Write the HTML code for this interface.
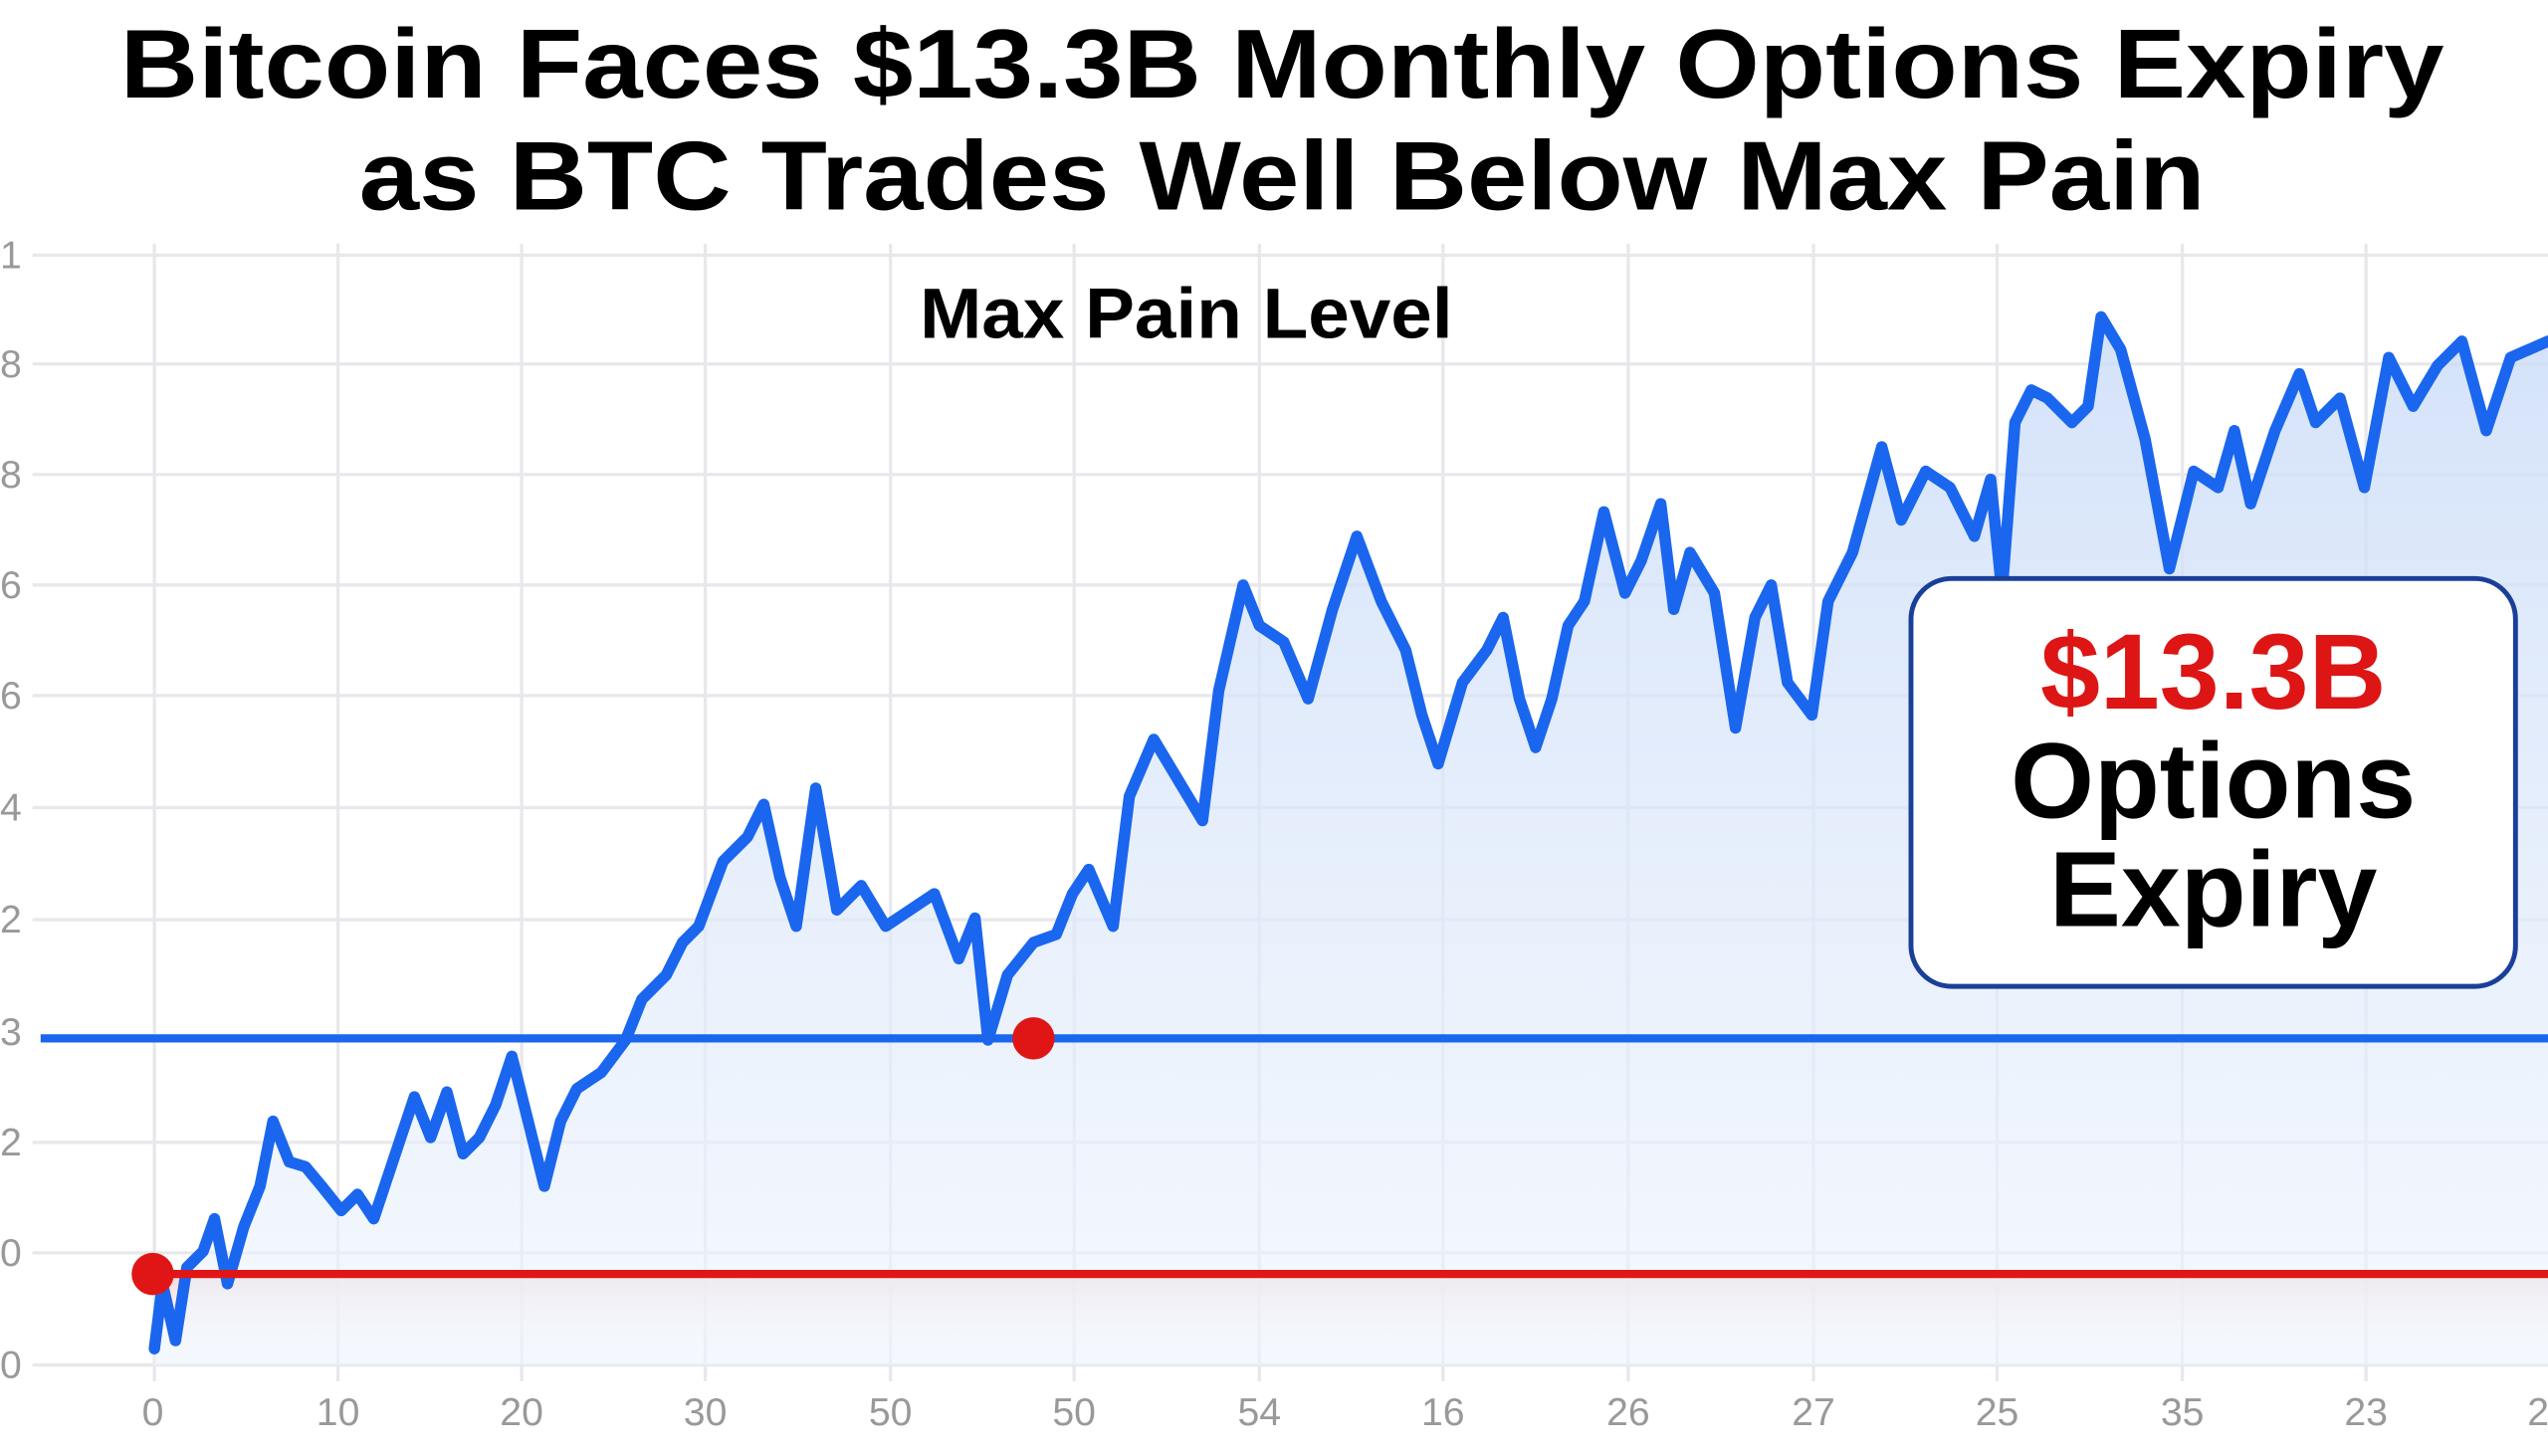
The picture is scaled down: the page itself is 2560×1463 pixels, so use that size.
<!DOCTYPE html>
<html><head><meta charset="utf-8"><style>
html,body{margin:0;padding:0;background:#fff;}
svg{display:block;}
</style></head><body>
<svg width="2560" height="1463" viewBox="0 0 1568 896" preserveAspectRatio="none" xmlns="http://www.w3.org/2000/svg">
<defs>
<linearGradient id="bf" x1="0" y1="0" x2="0" y2="1">
<stop offset="0" stop-color="#c9dbf8" stop-opacity="0.8"/>
<stop offset="1" stop-color="#eef4fd" stop-opacity="0.6"/>
</linearGradient>
<linearGradient id="rf" x1="0" y1="0" x2="0" y2="1">
<stop offset="0" stop-color="#f7d6d8"/>
<stop offset="1" stop-color="#fff" stop-opacity="0"/>
</linearGradient>
</defs>
<rect width="1568" height="896" fill="#fff"/>
<g stroke="#e8e8ec" stroke-width="2">
<line x1="95" y1="150" x2="95" y2="850"/><line x1="208" y1="150" x2="208" y2="850"/><line x1="321" y1="150" x2="321" y2="850"/><line x1="434" y1="150" x2="434" y2="850"/><line x1="548" y1="150" x2="548" y2="850"/><line x1="661" y1="150" x2="661" y2="850"/><line x1="775" y1="150" x2="775" y2="850"/><line x1="888" y1="150" x2="888" y2="850"/><line x1="1002" y1="150" x2="1002" y2="850"/><line x1="1116" y1="150" x2="1116" y2="850"/><line x1="1229" y1="150" x2="1229" y2="850"/><line x1="1343" y1="150" x2="1343" y2="850"/><line x1="1456" y1="150" x2="1456" y2="850"/>
<line x1="20" y1="157" x2="1568" y2="157"/><line x1="20" y1="224" x2="1568" y2="224"/><line x1="20" y1="292" x2="1568" y2="292"/><line x1="20" y1="360" x2="1568" y2="360"/><line x1="20" y1="428" x2="1568" y2="428"/><line x1="20" y1="497" x2="1568" y2="497"/><line x1="20" y1="566" x2="1568" y2="566"/><line x1="20" y1="703" x2="1568" y2="703"/><line x1="20" y1="771" x2="1568" y2="771"/><line x1="20" y1="840" x2="1568" y2="840"/>
</g>
<g font-family="Liberation Sans, sans-serif" font-size="24" fill="#999">
<text x="0" y="165">1</text><text x="0" y="232">8</text><text x="0" y="300">8</text><text x="0" y="368">6</text><text x="0" y="436">6</text><text x="0" y="505">4</text><text x="0" y="574">2</text><text x="0" y="643">3</text><text x="0" y="711">2</text><text x="0" y="779">0</text><text x="0" y="848">0</text>
</g>
<g font-family="Liberation Sans, sans-serif" font-size="24" fill="#999" text-anchor="middle">
<text x="94" y="877">0</text><text x="208" y="877">10</text><text x="321" y="877">20</text><text x="434" y="877">30</text><text x="548" y="877">50</text><text x="661" y="877">50</text><text x="775" y="877">54</text><text x="888" y="877">16</text><text x="1002" y="877">26</text><text x="1116" y="877">27</text><text x="1229" y="877">25</text><text x="1343" y="877">35</text><text x="1456" y="877">23</text><text x="1562" y="877">2</text>
</g>
<rect x="95" y="784" width="1473" height="50" fill="url(#rf)"/>
<path d="M95,830 L100,790 L108,825 L115,780 L125,770 L132,750 L140,790 L150,755 L160,730 L168,690 L178,715 L188,718 L198,730 L210,745 L220,735 L230,750 L240,720 L255,675 L265,700 L275,672 L285,710 L295,700 L305,680 L315,650 L325,690 L335,730 L345,690 L355,670 L370,660 L385,640 L395,615 L410,600 L420,580 L430,570 L445,530 L460,515 L470,495 L480,540 L490,570 L502,485 L515,560 L530,545 L545,570 L560,560 L575,550 L590,590 L600,565 L608,640 L620,600 L636,580 L650,575 L660,550 L670,535 L685,570 L695,490 L710,455 L725,480 L740,505 L750,425 L765,360 L775,385 L790,395 L805,430 L820,375 L835,330 L850,370 L865,400 L875,440 L885,470 L900,420 L915,400 L925,380 L935,430 L945,460 L955,430 L965,385 L975,370 L987,315 L1000,365 L1010,345 L1022,310 L1030,375 L1040,340 L1055,365 L1068,448 L1080,380 L1090,360 L1100,420 L1115,440 L1125,370 L1140,340 L1158,275 L1170,320 L1185,290 L1200,300 L1215,330 L1225,295 L1232,365 L1240,260 L1250,240 L1260,245 L1275,260 L1285,250 L1293,195 L1305,215 L1320,270 L1335,350 L1350,290 L1365,300 L1375,265 L1385,310 L1400,265 L1415,230 L1425,260 L1440,245 L1455,300 L1470,220 L1485,250 L1500,225 L1515,210 L1530,265 L1545,220 L1568,210 L1568,840 L95,840 Z" fill="url(#bf)"/>
<path d="M95,830 L100,790 L108,825 L115,780 L125,770 L132,750 L140,790 L150,755 L160,730 L168,690 L178,715 L188,718 L198,730 L210,745 L220,735 L230,750 L240,720 L255,675 L265,700 L275,672 L285,710 L295,700 L305,680 L315,650 L325,690 L335,730 L345,690 L355,670 L370,660 L385,640 L395,615 L410,600 L420,580 L430,570 L445,530 L460,515 L470,495 L480,540 L490,570 L502,485 L515,560 L530,545 L545,570 L560,560 L575,550 L590,590 L600,565 L608,640 L620,600 L636,580 L650,575 L660,550 L670,535 L685,570 L695,490 L710,455 L725,480 L740,505 L750,425 L765,360 L775,385 L790,395 L805,430 L820,375 L835,330 L850,370 L865,400 L875,440 L885,470 L900,420 L915,400 L925,380 L935,430 L945,460 L955,430 L965,385 L975,370 L987,315 L1000,365 L1010,345 L1022,310 L1030,375 L1040,340 L1055,365 L1068,448 L1080,380 L1090,360 L1100,420 L1115,440 L1125,370 L1140,340 L1158,275 L1170,320 L1185,290 L1200,300 L1215,330 L1225,295 L1232,365 L1240,260 L1250,240 L1260,245 L1275,260 L1285,250 L1293,195 L1305,215 L1320,270 L1335,350 L1350,290 L1365,300 L1375,265 L1385,310 L1400,265 L1415,230 L1425,260 L1440,245 L1455,300 L1470,220 L1485,250 L1500,225 L1515,210 L1530,265 L1545,220 L1568,210" fill="none" stroke="#1a66ee" stroke-width="7" stroke-linejoin="round" stroke-linecap="round"/>
<line x1="25" y1="639" x2="1568" y2="639" stroke="#1a66ee" stroke-width="5"/>
<line x1="95" y1="784" x2="1568" y2="784" stroke="#e01616" stroke-width="5"/>
<circle cx="94" cy="784" r="13" fill="#e01616"/>
<circle cx="636" cy="639" r="13" fill="#e01616"/>
<rect x="1176" y="356" width="372" height="251" rx="25" fill="#fff" stroke="#1a3f99" stroke-width="3"/>
<g font-family="Liberation Sans, sans-serif" font-weight="bold" text-anchor="middle" font-size="66">
<text x="1362" y="436" fill="#dd1515">$13.3B</text>
<text x="1362" y="503" fill="#000">Options</text>
<text x="1362" y="570" fill="#000">Expiry</text>
</g>
<text x="730" y="208" font-family="Liberation Sans, sans-serif" font-weight="bold" font-size="44" text-anchor="middle" fill="#000" textLength="328" lengthAdjust="spacingAndGlyphs">Max Pain Level</text>
<g font-family="Liberation Sans, sans-serif" font-weight="bold" font-size="60" text-anchor="middle" fill="#000">
<text x="789" y="60" textLength="1430" lengthAdjust="spacingAndGlyphs">Bitcoin Faces $13.3B Monthly Options Expiry</text>
<text x="789" y="129" textLength="1136" lengthAdjust="spacingAndGlyphs">as BTC Trades Well Below Max Pain</text>
</g>
</svg>
</body></html>
